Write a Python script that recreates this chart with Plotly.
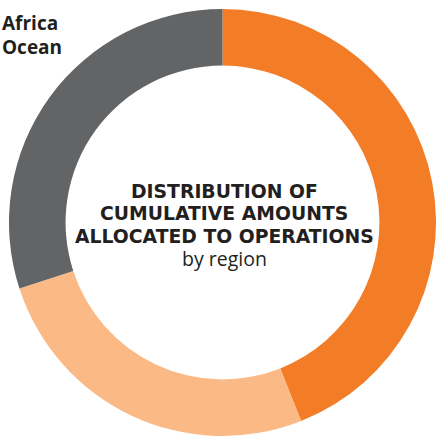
import plotly.graph_objects as go

regions = ["Region A", "Region B", "Africa / Ocean"]
shares = [44, 26, 30]
colors = ["#F37C26", "#FBB985", "#636466"]

title_lines = ["DISTRIBUTION OF", "CUMULATIVE AMOUNTS", "ALLOCATED TO OPERATIONS"]
subtitle = "by region"
corner_lines = ["Africa", "Ocean"]

W, H = 436, 439
cx, cy, r = 222.5, 222.5, 213.5

fig = go.Figure(go.Pie(
    labels=regions,
    values=shares,
    hole=0.735,
    sort=False,
    direction="clockwise",
    rotation=0,
    textinfo="none",
    hoverinfo="label+percent",
    marker=dict(colors=colors, line=dict(width=0)),
    domain=dict(x=[(cx - r) / W, (cx + r) / W], y=[1 - (cy + r) / H, 1 - (cy - r) / H]),
    showlegend=False,
))

def py(p):
    return 1 - p / H

ann = []
for i, t in enumerate(title_lines):
    ann.append(dict(text=f"<b>{t}</b>", x=224 / W, y=py(191 + 22.7 * i), xref="paper", yref="paper",
                    showarrow=False, xanchor="center", yanchor="middle",
                    font=dict(family="DejaVu Sans", size=18.8, color="#231F20")))
ann.append(dict(text=subtitle, x=224 / W, y=py(258), xref="paper", yref="paper",
                showarrow=False, xanchor="center", yanchor="middle",
                font=dict(family="Open Sans", size=19.5, color="#231F20")))
for t, yy in zip(corner_lines, [23, 47]):
    ann.append(dict(text=f"<b>{t}</b>", x=0, y=py(yy), xref="paper", yref="paper",
                    showarrow=False, xanchor="left", yanchor="middle",
                    font=dict(family="Open Sans", size=19, color="#231F20")))

fig.update_layout(
    width=W, height=H,
    margin=dict(l=0, r=0, t=0, b=0),
    paper_bgcolor="white",
    plot_bgcolor="white",
    annotations=ann,
)

fig.write_html("out.html")
